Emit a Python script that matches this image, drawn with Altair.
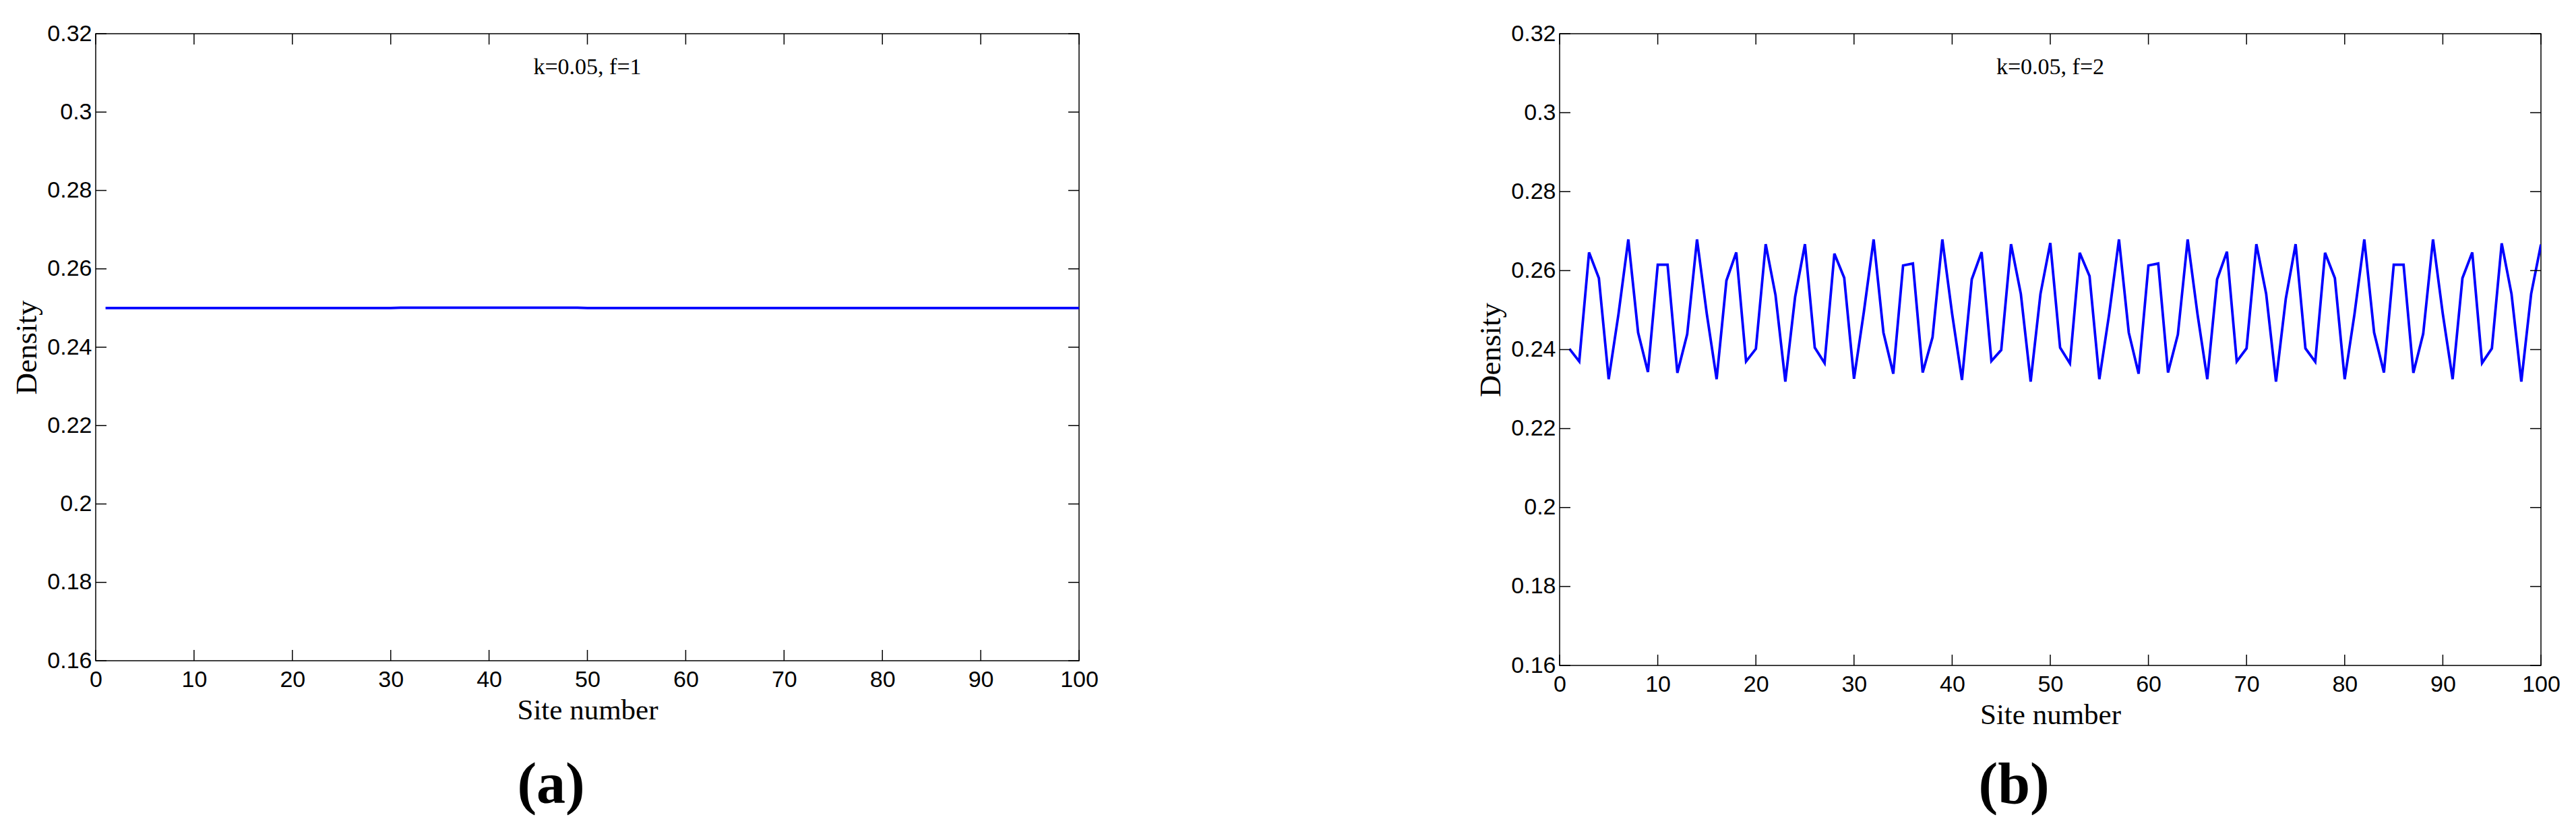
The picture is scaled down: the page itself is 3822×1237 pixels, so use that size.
import altair as alt
import pandas as pd

# ---------------- data ----------------
sites = list(range(1, 101))

density_a = ([0.2500] * 30) + ([0.2501] * 19) + ([0.2500] * 51)

density_b = [
    0.2402, 0.2370, 0.2646, 0.2581, 0.2325, 0.2490, 0.2679, 0.2443, 0.2343, 0.2615,
    0.2615, 0.2341, 0.2439, 0.2679, 0.2490, 0.2325, 0.2575, 0.2646, 0.2370, 0.2402,
    0.2667, 0.2538, 0.2319, 0.2534, 0.2667, 0.2405, 0.2366, 0.2643, 0.2582, 0.2326,
    0.2495, 0.2679, 0.2443, 0.2339, 0.2613, 0.2618, 0.2342, 0.2431, 0.2679, 0.2490,
    0.2323, 0.2578, 0.2647, 0.2371, 0.2399, 0.2667, 0.2541, 0.2319, 0.2541, 0.2670,
    0.2405, 0.2365, 0.2645, 0.2586, 0.2325, 0.2490, 0.2679, 0.2443, 0.2339, 0.2613,
    0.2618, 0.2342, 0.2438, 0.2679, 0.2490, 0.2325, 0.2578, 0.2648, 0.2370, 0.2403,
    0.2667, 0.2541, 0.2319, 0.2529, 0.2667, 0.2403, 0.2369, 0.2645, 0.2581, 0.2325,
    0.2490, 0.2679, 0.2443, 0.2342, 0.2615, 0.2615, 0.2341, 0.2440, 0.2679, 0.2490,
    0.2325, 0.2581, 0.2646, 0.2366, 0.2403, 0.2669, 0.2541, 0.2319, 0.2541, 0.2666,
]

x_ticks = [0, 10, 20, 30, 40, 50, 60, 70, 80, 90, 100]
y_ticks = [0.16, 0.18, 0.20, 0.22, 0.24, 0.26, 0.28, 0.30, 0.32]
notes = ["k=0.05, f=1", "k=0.05, f=2"]
panel_labels = ["(a)", "(b)"]

SANS = "Liberation Sans"
SERIF = "Liberation Serif"
TL = 16  # inward tick length in px

X_AXIS = alt.Axis(
    values=x_ticks, title="Site number", grid=False, domain=False, ticks=False,
    labelFont=SANS, labelFontSize=34, labelColor="black", labelPadding=11,
    labelFlush=False, labelOverlap=False, labelBound=False,
    titleFont=SERIF, titleFontSize=43, titleFontWeight="normal",
    titleColor="black", titlePadding=7,
)
Y_AXIS = alt.Axis(
    values=y_ticks, format="~g", title="Density", grid=False, domain=False,
    ticks=False, labelFont=SANS, labelFontSize=34, labelColor="black",
    labelPadding=6, labelFlush=False, labelOverlap=False, labelBound=False,
    titleFont=SERIF, titleFontSize=45, titleFontWeight="normal",
    titleColor="black", titlePadding=7,
)


def panel(values, note, label, W, H):
    df = pd.DataFrame({"site": sites, "density": values})
    xs = alt.Scale(domain=[0, 100], nice=False, zero=False)
    ys = alt.Scale(domain=[0.16, 0.32], nice=False, zero=False)

    def X(f):
        return alt.X(f, scale=xs, axis=X_AXIS, title="Site number")

    def Y(f):
        return alt.Y(f, scale=ys, axis=Y_AXIS, title="Density")

    line = alt.Chart(df).mark_line(color="#0000ff", strokeWidth=3.8, clip=True).encode(
        x=X("site:Q"), y=Y("density:Q"),
    )

    xt = pd.DataFrame({"t": x_ticks})
    yt = pd.DataFrame({"t": y_ticks})
    rule = dict(color="black", strokeWidth=1.5)
    top_ticks = alt.Chart(xt).mark_rule(**rule).encode(
        x=X("t:Q"), y=alt.value(0), y2=alt.value(TL))
    bottom_ticks = alt.Chart(xt).mark_rule(**rule).encode(
        x=X("t:Q"), y=alt.value(H - TL), y2=alt.value(H))
    left_ticks = alt.Chart(yt).mark_rule(**rule).encode(
        y=Y("t:Q"), x=alt.value(0), x2=alt.value(TL))
    right_ticks = alt.Chart(yt).mark_rule(**rule).encode(
        y=Y("t:Q"), x=alt.value(W - TL), x2=alt.value(W))

    note_text = alt.Chart(pd.DataFrame({"x": [50], "t": [note]})).mark_text(
        font=SERIF, fontSize=34, baseline="alphabetic", align="center", color="black"
    ).encode(x=X("x:Q"), y=alt.value(60), text="t:N")

    label_text = alt.Chart(pd.DataFrame({"x": [46.3], "t": [label]})).mark_text(
        font=SERIF, fontSize=86, fontWeight="bold", baseline="alphabetic",
        align="center", color="black"
    ).encode(x=X("x:Q"), y=alt.value(1141), text="t:N")

    return alt.layer(
        line, top_ticks, bottom_ticks, left_ticks, right_ticks, note_text, label_text
    ).properties(width=W, height=H)


left = panel(density_a, notes[0], panel_labels[0], 1459, 930)
right = panel(density_b, notes[1], panel_labels[1], 1456, 937)

chart = alt.hconcat(left, right, spacing=558).properties(
    padding={"left": 9, "top": 24, "right": 0, "bottom": 0}
).configure(
    background="white",
    view=alt.ViewConfig(stroke="black", strokeWidth=1.5),
)

chart.save("out.html", embed_options={"renderer": "svg", "actions": False})
